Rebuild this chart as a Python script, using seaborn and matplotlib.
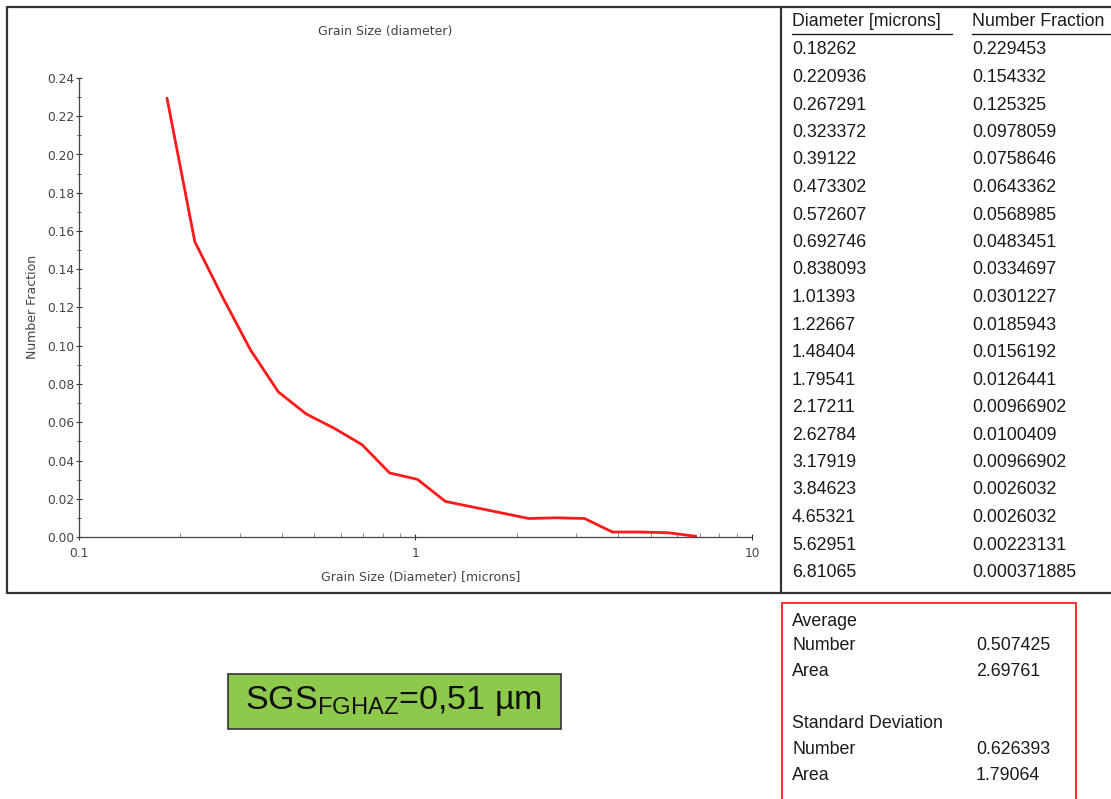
import matplotlib
matplotlib.use("Agg")
import matplotlib.pyplot as plt
from matplotlib.patches import Rectangle
from matplotlib.lines import Line2D
from matplotlib.ticker import LogLocator, MultipleLocator, FormatStrFormatter, FixedLocator, NullFormatter
import seaborn as sns
import pandas as pd

# Grain size distribution (diameter in microns vs number fraction)
diameter = [0.18262, 0.220936, 0.267291, 0.323372, 0.39122, 0.473302, 0.572607,
            0.692746, 0.838093, 1.01393, 1.22667, 1.48404, 1.79541, 2.17211,
            2.62784, 3.17919, 3.84623, 4.65321, 5.62951, 6.81065]
number_fraction = [0.229453, 0.154332, 0.125325, 0.0978059, 0.0758646, 0.0643362,
                   0.0568985, 0.0483451, 0.0334697, 0.0301227, 0.0185943, 0.0156192,
                   0.0126441, 0.00966902, 0.0100409, 0.00966902, 0.0026032,
                   0.0026032, 0.00223131, 0.000371885]
diameter_labels = ["0.18262", "0.220936", "0.267291", "0.323372", "0.39122", "0.473302",
                   "0.572607", "0.692746", "0.838093", "1.01393", "1.22667", "1.48404",
                   "1.79541", "2.17211", "2.62784", "3.17919", "3.84623", "4.65321",
                   "5.62951", "6.81065"]
fraction_labels = ["0.229453", "0.154332", "0.125325", "0.0978059", "0.0758646",
                   "0.0643362", "0.0568985", "0.0483451", "0.0334697", "0.0301227",
                   "0.0185943", "0.0156192", "0.0126441", "0.00966902", "0.0100409",
                   "0.00966902", "0.0026032", "0.0026032", "0.00223131", "0.000371885"]

stat_groups = ["Average", "Standard Deviation"]
stat_names = ["Number", "Area"]
stat_values = [["0.507425", "2.69761"], ["0.626393", "1.79064"]]
summary_label = r"SGS$_\mathregular{FGHAZ}$=0,51 µm"

sns.set_style("ticks")
plt.rcParams["font.family"] = ["DejaVu Sans"]

W, H = 1111, 799
fig = plt.figure(figsize=(W / 100, H / 100), dpi=100)


def fx(px):
    return px / W


def fy(py):
    return 1 - py / H


ax = fig.add_axes([fx(79), fy(537), fx(752) - fx(79), fy(78) - fy(537)])
df = pd.DataFrame({"diameter": diameter, "fraction": number_fraction})
sns.lineplot(data=df, x="diameter", y="fraction", ax=ax, color="#ff1a1a", linewidth=2)

ax.set_xscale("log")
ax.set_xlim(0.1, 10)
ax.set_ylim(0, 0.24)
ax.xaxis.set_major_locator(FixedLocator([0.1, 1, 10]))
ax.xaxis.set_major_formatter(FormatStrFormatter("%g"))
ax.xaxis.set_minor_locator(LogLocator(base=10, subs=range(2, 10)))
ax.xaxis.set_minor_formatter(NullFormatter())
ax.yaxis.set_major_locator(MultipleLocator(0.02))
ax.yaxis.set_minor_locator(MultipleLocator(0.01))
ax.yaxis.set_major_formatter(FormatStrFormatter("%.2f"))

for s in ["top", "right"]:
    ax.spines[s].set_visible(False)
for s in ["left", "bottom"]:
    ax.spines[s].set_color("#444444")
    ax.spines[s].set_linewidth(0.9)

ax.tick_params(axis="y", which="major", direction="inout", length=5, width=0.8,
               labelsize=8.8, colors="#333333", labelcolor="#444444", pad=1)
ax.tick_params(axis="y", which="minor", direction="inout", length=3, width=0.7, colors="#555555")
ax.tick_params(axis="x", which="major", direction="inout", length=5, width=0.8,
               labelsize=8.8, colors="#333333", labelcolor="#444444", pad=5)
ax.tick_params(axis="x", which="minor", direction="in", length=3, width=0.7, colors="#888888")

ax.set_xlabel("")
ax.set_ylabel("")
lbl = dict(ha="center", va="center", fontsize=9, color="#444444")
fig.text(fx(385), fy(31), "Grain Size (diameter)", **lbl)
fig.text(fx(421), fy(578), "Grain Size (Diameter) [microns]", **lbl)
fig.text(fx(32), fy(307), "Number Fraction", rotation=90, **lbl)

# Outer frame with divider between chart and table
frame_kw = dict(color="#333333", linewidth=1.6, transform=fig.transFigure)
fig.add_artist(Line2D([fx(7), fx(1111)], [fy(7), fy(7)], **frame_kw))
fig.add_artist(Line2D([fx(7), fx(1111)], [fy(593), fy(593)], **frame_kw))
fig.add_artist(Line2D([fx(7), fx(7)], [fy(7), fy(593)], **frame_kw))
fig.add_artist(Line2D([fx(781), fx(781)], [fy(7), fy(593)], **frame_kw))

# Data table
tfont = dict(family=["Liberation Sans", "DejaVu Sans"], fontsize=12.8, color="#1a1a1a")
fig.text(fx(792), fy(22), "Diameter [microns]", ha="left", va="center", **tfont)
fig.text(fx(972), fy(22), "Number Fraction", ha="left", va="center", **tfont)
ul_kw = dict(color="#1a1a1a", linewidth=1.0, transform=fig.transFigure)
fig.add_artist(Line2D([fx(792), fx(952)], [fy(34), fy(34)], **ul_kw))
fig.add_artist(Line2D([fx(972), fx(1111)], [fy(34), fy(34)], **ul_kw))
for i, (d, f) in enumerate(zip(diameter_labels, fraction_labels)):
    y = 50 + i * 27.5
    fig.text(fx(792), fy(y), d, ha="left", va="center", **tfont)
    fig.text(fx(972), fy(y), f, ha="left", va="center", **tfont)

# Statistics box
fig.add_artist(Rectangle((fx(782), fy(820)), fx(1076) - fx(782), fy(603) - fy(820),
                         transform=fig.transFigure, fill=False, edgecolor="#ff2020",
                         linewidth=1.3))
rows_y = [[621, 646, 672], [724, 749, 775]]
for g, group in enumerate(stat_groups):
    fig.text(fx(792), fy(rows_y[g][0]), group, ha="left", va="center", **tfont)
    for k, name in enumerate(stat_names):
        fig.text(fx(792), fy(rows_y[g][k + 1]), name, ha="left", va="center", **tfont)
        fig.text(fx(976), fy(rows_y[g][k + 1]), stat_values[g][k], ha="left", va="center", **tfont)

# Summary label
fig.add_artist(Rectangle((fx(228), fy(729)), fx(561) - fx(228), fy(674) - fy(729),
                         transform=fig.transFigure, facecolor="#8dc94a", edgecolor="#333333",
                         linewidth=1.2))
fig.text(fx(393), fy(701), summary_label, ha="center", va="center",
         family=["Liberation Sans", "DejaVu Sans"], fontsize=24.5, color="#111111")

fig.savefig("out.png", dpi=100, facecolor="white")
